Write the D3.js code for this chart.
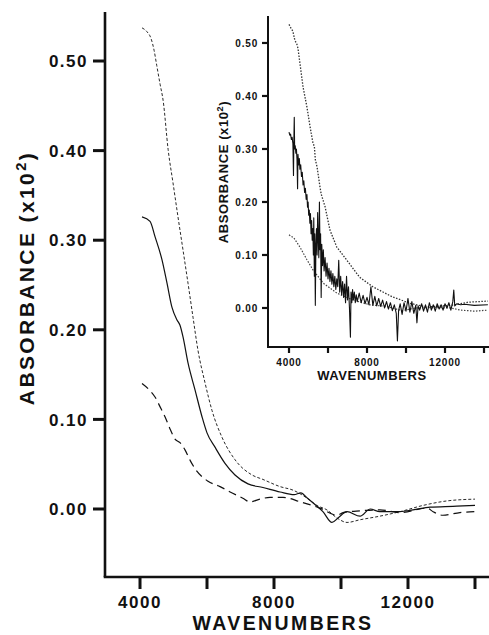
<!DOCTYPE html>
<html><head><meta charset="utf-8">
<script src="https://cdn.jsdelivr.net/npm/d3@7"></script>
<style>
html,body{margin:0;padding:0;background:#fff;}
svg{display:block;font-family:"Liberation Sans",Arial,Helvetica,sans-serif;font-weight:bold;}
</style></head>
<body>
<svg id="c" width="489" height="635"></svg>
<script>
// ---------- data (wavenumber, absorbance x10^2) ----------
const mainTicksX = [4000, 6000, 8000, 10000, 12000, 14000];
const mainTickLabelsX = ["4000", "", "8000", "", "12000", ""];
const mainTicksY = [0.00, 0.10, 0.20, 0.30, 0.40, 0.50];
const mainTickLabelsY = ["0.00", "0.10", "0.20", "0.30", "0.40", "0.50"];

const mainShortDash = [[4060,0.537],[4200,0.533],[4330,0.525],[4420,0.512],[4500,0.495],[4600,0.474],[4690,0.456],[4840,0.401],[4985,0.364],[5134,0.326],[5284,0.289],[5433,0.252],[5582,0.214],[5731,0.177],[5940,0.141],[6149,0.110],[6448,0.080],[6836,0.055],[7343,0.038],[7670,0.033],[8180,0.025],[8570,0.021],[8990,0.012],[9280,0.004],[9580,-0.001],[9880,-0.010],[10180,-0.015],[10570,-0.012],[11160,-0.008],[11760,-0.003],[12450,0.004],[13160,0.009],[14000,0.011]];
const mainSolid = [[4060,0.326],[4300,0.321],[4448,0.304],[4657,0.278],[4806,0.252],[4955,0.225],[5104,0.211],[5194,0.205],[5284,0.192],[5433,0.163],[5642,0.133],[5851,0.103],[6000,0.085],[6239,0.069],[6537,0.051],[6836,0.038],[7224,0.028],[7670,0.024],[8180,0.019],[8600,0.016],[8800,0.018],[9000,0.012],[9160,0.007],[9460,-0.003],[9730,-0.015],[9910,-0.010],[10180,-0.003],[10570,-0.008],[10870,0.000],[11160,-0.003],[11670,-0.003],[12150,-0.001],[12660,0.002],[13340,0.003],[14000,0.004]];
const mainLongDash = [[4060,0.140],[4300,0.132],[4448,0.125],[4600,0.114],[4746,0.103],[4900,0.089],[5045,0.078],[5194,0.074],[5343,0.066],[5500,0.054],[5642,0.045],[6030,0.031],[6390,0.025],[6690,0.019],[7070,0.012],[7280,0.008],[7580,0.011],[7880,0.013],[8270,0.013],[8780,0.008],[9370,0.001],[9880,-0.007],[10060,-0.004],[10570,-0.002],[11160,-0.001],[11760,-0.004],[12570,0.001],[12750,-0.003],[13040,-0.007],[13550,-0.004],[14000,-0.003]];

const insetTicksX = [4000, 6000, 8000, 10000, 12000, 14000];
const insetTickLabelsX = ["4000", "", "8000", "", "12000", ""];
const insetTicksY = [0.00, 0.10, 0.20, 0.30, 0.40, 0.50];
const insetTickLabelsY = ["0.00", "0.10", "0.20", "0.30", "0.40", "0.50"];

const insetTop = [[4000,0.535],[4100,0.528],[4200,0.522],[4300,0.505],[4400,0.498],[4460,0.490],[4560,0.462],[4720,0.417],[4920,0.379],[5080,0.342],[5230,0.311],[5300,0.305],[5350,0.280],[5440,0.266],[5590,0.228],[5650,0.215],[5850,0.191],[6100,0.147],[6450,0.115],[6950,0.091],[7620,0.058],[8300,0.040],[9300,0.021],[10200,0.009],[11000,0.002],[12000,0.004],[12500,0.006],[13200,0.011],[14200,0.013]];
const insetBottom = [[4000,0.138],[4250,0.132],[4560,0.115],[4920,0.091],[5230,0.072],[5750,0.047],[6460,0.028],[7280,0.015],[8150,0.006],[9000,0.003],[9800,-0.005],[10500,0.000],[11500,0.001],[12300,0.000],[12800,-0.004],[13500,-0.006],[14200,-0.004]];
const insetSolid = [[4000,0.332],[4040,0.326],[4080,0.328],[4120,0.318],[4160,0.322],[4200,0.310],[4230,0.250],[4250,0.318],[4270,0.360],[4290,0.300],[4320,0.306],[4350,0.292],[4380,0.300],[4410,0.280],[4440,0.225],[4460,0.290],[4500,0.270],[4530,0.282],[4560,0.262],[4600,0.270],[4640,0.248],[4680,0.256],[4720,0.232],[4760,0.240],[4800,0.218],[4840,0.226],[4880,0.205],[4920,0.214],[4950,0.190],[4980,0.200],[5010,0.175],[5040,0.185],[5070,0.160],[5100,0.178],[5130,0.140],[5160,0.165],[5190,0.128],[5220,0.150],[5250,0.100],[5270,0.170],[5300,0.060],[5320,0.140],[5350,0.005],[5380,0.120],[5410,0.150],[5440,0.100],[5470,0.180],[5500,0.130],[5530,0.095],[5560,0.200],[5590,0.110],[5620,0.140],[5650,0.020],[5680,0.120],[5720,0.080],[5760,0.110],[5800,0.070],[5850,0.095],[5900,0.060],[5950,0.085],[6000,0.055],[6050,0.075],[6100,0.050],[6150,0.070],[6200,0.045],[6250,0.065],[6300,0.040],[6350,0.060],[6400,0.035],[6450,0.055],[6500,0.040],[6550,0.090],[6600,0.030],[6650,0.060],[6700,0.025],[6750,0.050],[6800,0.020],[6850,0.045],[6900,0.010],[6950,0.060],[7000,0.015],[7050,0.040],[7100,0.000],[7150,-0.055],[7180,0.030],[7220,0.010],[7260,0.035],[7300,0.015],[7350,0.030],[7400,0.010],[7450,0.025],[7500,0.012],[7600,0.028],[7700,0.010],[7800,0.024],[7900,0.008],[8000,0.020],[8100,0.006],[8200,0.040],[8300,0.005],[8400,0.022],[8500,0.004],[8600,0.018],[8700,0.003],[8800,0.015],[8900,0.000],[9000,0.012],[9100,-0.002],[9200,0.010],[9300,-0.005],[9400,0.006],[9500,-0.010],[9560,-0.062],[9620,-0.005],[9700,0.008],[9800,-0.012],[9900,0.010],[10000,-0.006],[10100,0.018],[10200,-0.008],[10300,0.012],[10400,-0.010],[10500,0.005],[10560,-0.028],[10620,0.004],[10700,-0.004],[10800,0.008],[10900,-0.006],[11000,0.006],[11100,-0.008],[11200,0.010],[11300,-0.004],[11400,0.006],[11500,-0.006],[11600,0.008],[11700,-0.002],[11800,0.006],[11900,-0.004],[12000,0.008],[12100,0.000],[12200,0.010],[12300,-0.004],[12400,0.012],[12450,0.034],[12500,0.004],[12600,0.008],[12800,0.006],[13000,0.007],[13500,0.005],[14200,0.006]];

// ---------- drawing ----------
const svg = d3.select("#c");
const ink = "#111";

function panel(o) {
  const x = d3.scaleLinear().domain(o.xDomain).range(o.xRange);
  const y = d3.scaleLinear().domain(o.yDomain).range(o.yRange);
  const g = svg.append("g");
  g.append("line").attr("x1", o.xRange[0]).attr("x2", o.xRange[0])
    .attr("y1", o.yRange[0]).attr("y2", o.yRange[1])
    .attr("stroke", ink).attr("stroke-width", o.axisW);
  g.append("line").attr("x1", o.xRange[0] - o.axisW/2).attr("x2", o.xRange[1])
    .attr("y1", o.yRange[0]).attr("y2", o.yRange[0])
    .attr("stroke", ink).attr("stroke-width", o.axisW);
  o.yTicks.forEach((v, i) => {
    g.append("line").attr("x1", o.xRange[0] - o.tickLen).attr("x2", o.xRange[0])
      .attr("y1", y(v)).attr("y2", y(v)).attr("stroke", ink).attr("stroke-width", o.tickW);
    g.append("text").attr("x", o.yLabelX).attr("y", y(v)).attr("dy", "0.36em")
      .attr("text-anchor", "end").attr("font-size", o.tickFont)
      .attr("letter-spacing", o.tickLS).attr("fill", ink).text(o.yLabels[i]);
  });
  o.xTicks.forEach((v, i) => {
    g.append("line").attr("x1", x(v)).attr("x2", x(v))
      .attr("y1", o.yRange[0]).attr("y2", o.yRange[0] + o.tickLen)
      .attr("stroke", ink).attr("stroke-width", o.tickW);
    if (o.xLabels[i]) g.append("text").attr("x", x(v)).attr("y", o.xLabelY)
      .attr("text-anchor", "middle").attr("font-size", o.tickFont)
      .attr("letter-spacing", o.tickLS).attr("fill", ink).text(o.xLabels[i]);
  });
  g.append("text").attr("x", o.xTitle[0]).attr("y", o.xTitle[1])
    .attr("text-anchor", "middle").attr("font-size", o.xTitleFont)
    .attr("letter-spacing", o.xTitleLS).attr("fill", ink).text("WAVENUMBERS");
  const yt = g.append("text").attr("transform", `translate(${o.yTitle[0]},${o.yTitle[1]}) rotate(-90)`)
    .attr("text-anchor", "middle").attr("font-size", o.titleFont)
    .attr("letter-spacing", o.titleLS).attr("fill", ink);
  yt.append("tspan").text("ABSORBANCE  (x10");
  yt.append("tspan").attr("dy", -o.titleFont * 0.4).attr("font-size", o.titleFont * 0.7).text("2");
  yt.append("tspan").attr("dy", o.titleFont * 0.4).text(")");
  o.series.forEach(s => {
    const line = d3.line().x(d => x(d[0])).y(d => y(d[1])).curve(s.curve || d3.curveLinear);
    g.append("path").datum(s.data).attr("d", line).attr("fill", "none")
      .attr("stroke", s.color || ink).attr("stroke-width", s.w)
      .attr("stroke-dasharray", s.dash || null).attr("stroke-linejoin", "round");
  });
}

panel({
  xDomain: [2955, 14418], xRange: [105, 489],
  yDomain: [-0.0759, 0.5547], yRange: [577, 12],
  axisW: 2.6, tickW: 3, tickLen: 12,
  xTicks: mainTicksX, xLabels: mainTickLabelsX,
  yTicks: mainTicksY, yLabels: mainTickLabelsY,
  yLabelX: 88, xLabelY: 608, tickFont: 17, tickLS: 1.5,
  xTitle: [283, 630], xTitleFont: 19.5, xTitleLS: 2.4,
  yTitle: [34, 278], titleFont: 21, titleLS: 2.4,
  series: [
    {data: mainShortDash, w: 0.9, dash: "3,2", curve: d3.curveMonotoneX},
    {data: mainSolid, w: 1.2, curve: d3.curveMonotoneX},
    {data: mainLongDash, w: 1.2, dash: "8,5", curve: d3.curveMonotoneX}
  ]
});

panel({
  xDomain: [2923, 14256], xRange: [268, 489],
  yDomain: [-0.0736, 0.5509], yRange: [347, 16],
  axisW: 2, tickW: 2.2, tickLen: 6,
  xTicks: insetTicksX, xLabels: insetTickLabelsX,
  yTicks: insetTicksY, yLabels: insetTickLabelsY,
  yLabelX: 258, xLabelY: 366, tickFont: 10, tickLS: 0.8,
  xTitle: [372, 380], xTitleFont: 13, xTitleLS: 0.6,
  yTitle: [228, 172], titleFont: 13, titleLS: 0.6,
  series: [
    {data: insetTop, w: 1.3, dash: "1.5,1.5", color: "#333"},
    {data: insetBottom, w: 1.2, dash: "1.5,1.5", color: "#444"},
    {data: insetSolid, w: 1.1}
  ]
});
</script>
</body></html>
